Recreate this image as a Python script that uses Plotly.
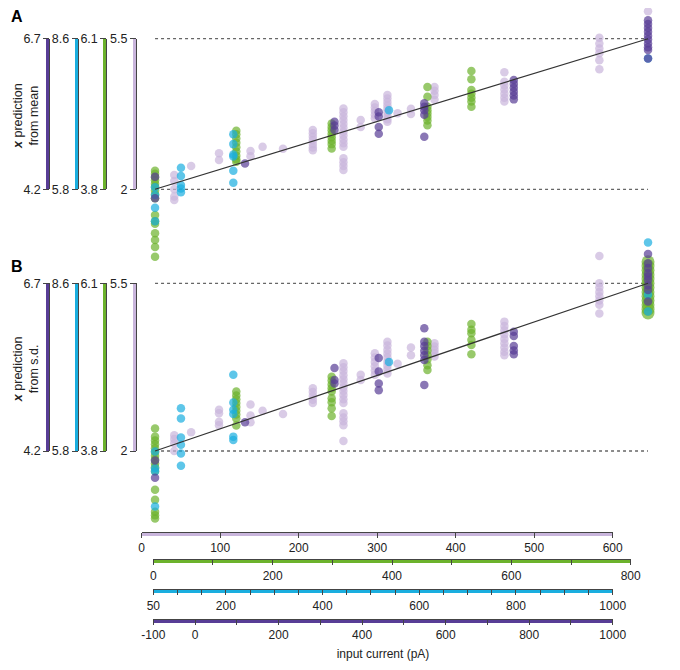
import plotly.graph_objects as go

W, H = 680, 670
OFF = 8          # the page body margin shifts the figure by 8px right and down

LILAC = '#C9B5DC'
GREEN = '#6CB22C'
CYAN = '#1AAEDF'
PURPLE = '#583D96'
INK = '#222222'
SPINE = '#444444'
FONT = 'Liberation Sans, Arial, sans-serif'

###############################################################################
# Data: (input current on the lilac scale, [x predictions on the lilac scale])
###############################################################################
A_LILAC = [
    (41.5, [2.33, 2.19, 2.00, 1.83, 1.75]), (63, [2.54]), (98.5, [2.84, 2.68]),
    (138.6, [2.89, 2.77]), (154, [2.99]), (180, [2.94]),
    (218, [3.38, 3.30, 3.22, 3.14, 3.05, 2.97, 2.91]),
    (257, [3.88, 3.79, 3.70, 3.61, 3.52, 3.43, 3.34, 3.25, 3.16, 3.07, 2.99,
           2.72, 2.63, 2.54, 2.45]),
    (279, [3.61, 3.45]), (297, [3.98, 3.90, 3.82, 3.73, 3.65]),
    (313, [4.19, 4.11, 4.03, 3.95, 3.87, 3.79, 3.71, 3.63, 3.57]),
    (326, [3.77]), (343, [3.87, 3.75]), (373, [4.38, 4.29, 4.19, 4.08]),
    (462, [4.72, 4.50, 4.41, 4.32, 4.22, 4.13, 4.04]),
    (583, [6.30, 5.52, 5.39, 5.27, 5.16, 5.00, 4.79]), (645, [6.14]),
]
A_GREEN = [
    (17, [2.43, 2.36, 2.28, 2.21, 2.13, 2.06, 1.97, 1.88, 1.79, 1.40, 1.26,
          1.20, 0.98, 0.82, 0.66, 0.43]),
    (120.5, [3.36, 3.28, 3.18, 3.08, 2.98, 2.88, 2.78, 2.70, 2.64]),
    (242, [3.53, 3.45, 3.37, 3.29, 3.21, 3.13, 3.05, 2.95]),
    (364, [4.38, 4.15, 3.92, 3.84, 3.76, 3.68, 3.60, 3.49]),
    (420, [4.75, 4.56, 4.31, 4.22, 4.13, 4.04, 3.92]),
]
A_CYAN = [
    (17, [2.05, 1.87, 1.57, 1.26]), (50, [2.50, 2.31, 2.10, 2.02, 1.93]),
    (116.7, [3.28, 3.05, 2.81, 2.76, 2.43, 2.15]), (315, [3.84]), (645, [5.04]),
]
A_PURPLE = [
    (17, [2.29, 1.79]), (131.6, [2.60]), (245.6, [3.57, 3.48, 3.38]),
    (302, [3.79, 3.69, 3.45, 3.29]), (360, [4.00, 3.92, 3.84, 3.73, 3.22]),
    (474, [4.54, 4.45, 4.36, 4.27, 4.18, 4.09]),
    (645, [5.93, 5.84, 5.75, 5.66, 5.57, 5.48, 5.39, 5.30, 5.24, 5.04]),
]

B_LILAC = [
    (41.5, [2.33, 2.25, 2.16, 2.00]), (63, [2.39]),
    (98.5, [2.86, 2.79, 2.61, 2.54]), (138.6, [2.97, 2.74, 2.60]),
    (154, [2.84]), (180, [2.77]), (218, [3.31, 3.23, 3.15, 3.07, 3.00]),
    (257, [3.83, 3.75, 3.67, 3.58, 3.50, 3.42, 3.33, 3.25, 3.17, 3.08, 3.00,
           2.79, 2.70, 2.62, 2.54, 2.21]),
    (279, [3.59, 3.48]), (297, [4.04, 3.95, 3.86, 3.77, 3.68, 3.59]),
    (313, [4.28, 4.20, 4.11, 4.03, 3.95, 3.86, 3.78, 3.70, 3.62]),
    (326, [3.82]), (343, [4.16, 4.00]), (373, [4.25, 4.18, 4.11, 4.04, 3.97]),
    (462, [4.70, 4.61, 4.52, 4.43, 4.34, 4.25, 4.16, 4.07, 4.00]),
    (583, [6.07, 5.50, 5.41, 5.32, 5.23, 5.14, 5.05, 4.87]),
]
B_GREEN = [
    (17, [2.47, 2.30, 2.22, 2.14, 2.06, 1.98, 1.90, 1.82, 1.74, 1.66, 1.58,
          1.19, 0.98, 0.73, 0.66, 0.59]),
    (120.5, [3.24, 3.16, 3.08, 3.00, 2.92, 2.84, 2.76, 2.68, 2.53]),
    (242, [3.55, 3.47, 3.39, 3.31, 3.24, 3.10, 3.02, 2.89, 2.73]),
    (364, [4.28, 4.19, 4.10, 4.00, 3.91, 3.79, 3.69]),
    (420, [4.65, 4.53, 4.46, 4.32, 4.21, 4.02]),
    (645, [5.95, 5.86, 5.77, 5.68, 5.59, 5.50, 5.41, 5.32, 5.23, 5.14, 5.05,
           4.96, 4.88]),
]
B_CYAN = [
    (17, [1.99, 1.64, 1.57, 0.84]), (50, [2.89, 2.68, 2.28, 2.13, 1.95, 1.69]),
    (116.7, [3.59, 3.01, 2.86, 2.77, 2.30, 2.23]), (315, [3.86]),
    (645, [6.35, 5.26, 4.91]),
]
B_PURPLE = [
    (17, [1.80, 1.44]), (131.6, [2.60]), (245.6, [3.73, 3.48, 3.41]),
    (302, [3.94, 3.66, 3.41, 3.27]),
    (360, [4.56, 4.28, 4.19, 4.09, 4.00, 3.90, 3.38]),
    (474, [4.49, 4.40, 4.10, 4.19, 4.02]),
    (645, [6.11, 5.92, 5.82, 5.71, 5.64, 5.57, 5.46, 5.36, 5.12]),
]

FIT_X = [17, 645]
FIT_Y = [2, 5.5]
REF_LEVELS = [2, 5.5]

# colour-coded prediction scales (colour, bottom, top)
Y_SCALES = [(PURPLE, 4.2, 6.7), (CYAN, 5.8, 8.6), (GREEN, 3.8, 6.1), (LILAC, 2, 5.5)]

# colour-coded input current scales
X_LILAC_TICKS = [0, 100, 200, 300, 400, 500, 600]
X_LILAC_LABELS = ['0', '100', '200', '300', '400', '500', '600']
X_GREEN_TICKS = [0, 100, 200, 300, 400, 500, 600, 700, 800]
X_GREEN_LABELS = ['0', '', '200', '', '400', '', '600', '', '800']
X_CYAN_TICKS = [50, 100, 150, 200, 250, 300, 350, 400, 450, 500, 550, 600,
                650, 700, 750, 800, 850, 900, 950, 1000]
X_CYAN_LABELS = ['50', '', '', '200', '', '', '', '400', '', '', '', '600',
                 '', '', '', '800', '', '', '', '1000']
X_PURPLE_TICKS = [-100, 0, 100, 200, 300, 400, 500, 600, 700, 800, 900, 1000]
X_PURPLE_LABELS = ['-100', '0', '', '200', '', '400', '', '600', '', '800', '', '1000']

###############################################################################
# Geometry (pixels as seen in the 680x670 window)
###############################################################################
X0_PX, X_PX_PER = 141.7, 0.785            # lilac current scale
DATA_X_PX = (140, 668)
PANELS = {                                 # py of 5.5, py of 2, data extent
    'A': dict(top=38.7, bot=189.3, ext=(OFF, 262), label=17),
    'B': dict(top=283.3, bot=451.0, ext=(238, 528), label=266),
}
Y_BAR_PX = [48.3, 76.7, 105.3, 135.0]
BOTTOM_AXES = [                            # line py, left px, right px, range
    (LILAC, 531.7, 141.7, 612.7, (0, 600), X_LILAC_TICKS, X_LILAC_LABELS),
    (GREEN, 559.3, 153.3, 630.7, (0, 800), X_GREEN_TICKS, X_GREEN_LABELS),
    (CYAN, 589.3, 153.3, 612.7, (50, 1000), X_CYAN_TICKS, X_CYAN_LABELS),
    (PURPLE, 619.0, 153.3, 612.7, (-100, 1000), X_PURPLE_TICKS, X_PURPLE_LABELS),
]


def flat(cols):
    xs, ys = [], []
    for x, vals in cols:
        xs += [x] * len(vals)
        ys += vals
    return xs, ys


def px_x(px):
    return (px - OFF) / W


def px_y(py):
    return 1 - (py - OFF) / H


fig = go.Figure()
layout = dict(
    template='none',
    width=W, height=H, margin=dict(l=0, r=0, t=0, b=0, pad=0, autoexpand=False),
    paper_bgcolor='white', plot_bgcolor='rgba(0,0,0,0)', showlegend=False,
    font=dict(family=FONT, size=12, color=INK),
    xaxis=dict(domain=[px_x(DATA_X_PX[0]), px_x(DATA_X_PX[1])],
               range=[(DATA_X_PX[0] - X0_PX) / X_PX_PER, (DATA_X_PX[1] - X0_PX) / X_PX_PER],
               visible=False, anchor='y', automargin=False),
)
annotations = []

series = {'A': [(A_LILAC, LILAC), (A_GREEN, GREEN), (A_CYAN, CYAN), (A_PURPLE, PURPLE)],
          'B': [(B_LILAC, LILAC), (B_GREEN, GREEN), (B_CYAN, CYAN), (B_PURPLE, PURPLE)]}
titles = {'A': '<b><i>x</i></b> prediction<br>from mean',
          'B': '<b><i>x</i></b> prediction<br>from s.d.'}

next_y = 3


def add_yscale(dom, rng, pos, **kw):
    global next_y
    base = dict(domain=dom, range=rng, anchor='free', position=pos, side='left',
                automargin=False, showline=True, showgrid=False, zeroline=False)
    base.update(kw)
    layout['yaxis%d' % next_y] = base
    fig.add_trace(go.Scatter(x=[], y=[], xaxis='x', yaxis='y%d' % next_y,
                             hoverinfo='skip'))
    next_y += 1


for i, (name, g) in enumerate(PANELS.items()):
    yid = 'y' if i == 0 else 'y%d' % (i + 1)
    ykey = 'yaxis' if i == 0 else 'yaxis%d' % (i + 1)
    per = (g['bot'] - g['top']) / (REF_LEVELS[1] - REF_LEVELS[0])
    lo = REF_LEVELS[0] - (g['ext'][1] - g['bot']) / per
    hi = REF_LEVELS[1] + (g['top'] - g['ext'][0]) / per
    layout[ykey] = dict(domain=[px_y(g['ext'][1]), px_y(g['ext'][0])],
                        range=[lo, hi], visible=False, anchor='x', automargin=False)

    # dashed reference levels
    for lev in REF_LEVELS:
        fig.add_trace(go.Scatter(x=FIT_X, y=[lev, lev], mode='lines', yaxis=yid,
                                 line=dict(color='#666666', width=1.3, dash='3px,3px'),
                                 hoverinfo='skip'))
    # points
    for cols, col in series[name]:
        xs, ys = flat(cols)
        sizes = [13 if (name == 'B' and col == GREEN and x > 600) else 8.5 for x in xs]
        fig.add_trace(go.Scatter(x=xs, y=ys, mode='markers', yaxis=yid, cliponaxis=False,
                                 marker=dict(color=col, size=sizes, line=dict(width=0))))
    # fitted line
    fig.add_trace(go.Scatter(x=FIT_X, y=FIT_Y, mode='lines', yaxis=yid,
                             line=dict(color='#333333', width=1.2), hoverinfo='skip'))

    # colour-coded prediction scales on the left: coloured band + dark spine
    dom = [px_y(g['bot']), px_y(g['top'])]
    for (col, a, b), bx in zip(Y_SCALES, Y_BAR_PX):
        add_yscale(dom, [a, b], px_x(bx - 1), linecolor=col, linewidth=3,
                   ticks='', showticklabels=False)
        add_yscale(dom, [a, b], px_x(bx + 1), linecolor=SPINE, linewidth=1,
                   ticks='outside', ticklen=6, tickwidth=1, tickcolor=SPINE,
                   tickvals=[a, b], ticktext=['%g' % a, '%g' % b],
                   tickfont=dict(size=12.5, color=INK))

    annotations.append(dict(x=px_x(OFF + 1), y=px_y(g['label']), xref='paper', yref='paper',
                            text='<b>%s</b>' % name, showarrow=False,
                            xanchor='left', yanchor='middle',
                            font=dict(size=16, color='black')))
    annotations.append(dict(x=px_x(26), y=px_y((g['top'] + g['bot']) / 2 + 2),
                            xref='paper', yref='paper', text=titles[name],
                            xanchor='center', yanchor='middle',
                            textangle=-90, showarrow=False,
                            font=dict(size=12.5, color=INK)))

# colour-coded current scales at the bottom: dark spine on top, coloured band below
next_x = 2
for col, py, left, right, rng, tv, tt in BOTTOM_AXES:
    dom = [px_x(left), px_x(right)]
    for pos, kw in [
        (px_y(py + 2), dict(linecolor=col, linewidth=3, ticks='', showticklabels=False)),
        (px_y(py), dict(linecolor=SPINE, linewidth=1, ticks='outside', ticklen=5,
                        tickwidth=1, tickcolor=SPINE, tickvals=tv, ticktext=tt,
                        tickfont=dict(size=12, color=INK))),
    ]:
        ax = dict(domain=dom, range=list(rng), anchor='free', position=pos,
                  side='bottom', automargin=False, showline=True, showgrid=False,
                  zeroline=False)
        ax.update(kw)
        layout['xaxis%d' % next_x] = ax
        fig.add_trace(go.Scatter(x=[], y=[], xaxis='x%d' % next_x, yaxis='y2',
                                 hoverinfo='skip'))
        next_x += 1
layout['xaxis%d' % (next_x - 1)]['title'] = dict(text='input current (pA)', standoff=8,
                                                 font=dict(size=12, color=INK))

layout['annotations'] = annotations
fig.update_layout(**layout)
fig.write_html("out.html")
